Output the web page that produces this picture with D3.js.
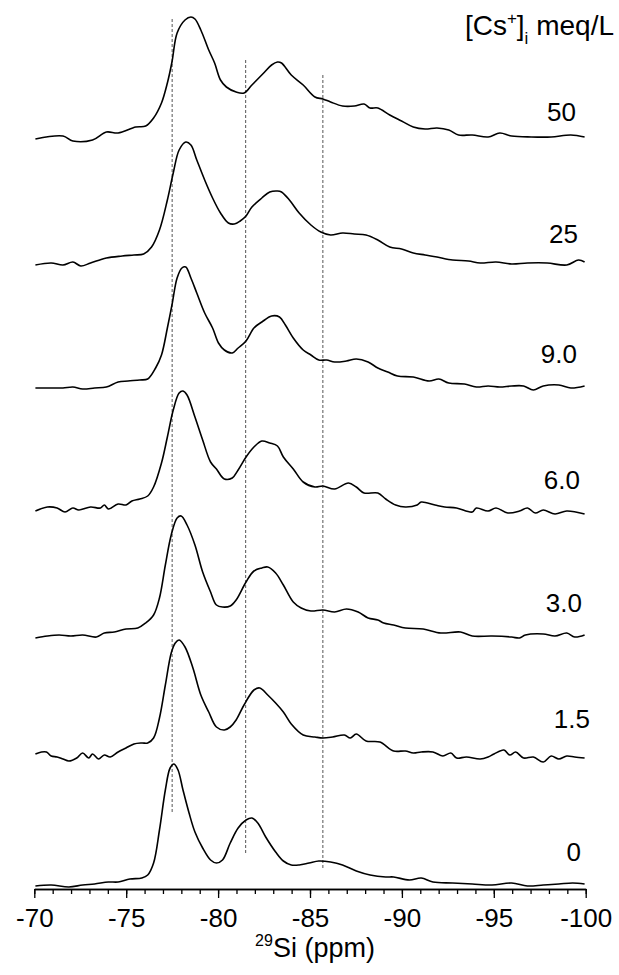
<!DOCTYPE html>
<html lang="en">
<head>
<meta charset="utf-8">
<script src="https://cdn.jsdelivr.net/npm/d3@7"></script>
<style>
  body { margin: 0; background: #fff; }
  text { font-family: "Liberation Sans", Arial, sans-serif; fill: #000; }
</style>
</head>
<body>
<script>
// [Cs+]i in meq/L, top spectrum first
const concLabels = ["50", "25", "9.0", "6.0", "3.0", "1.5", "0"];

// 29Si spectra: [shift (ppm), intensity (a.u.)]
const sp50 = [[-70.06,0],[-71.56,3],[-72.10,-2],[-73.17,-1],[-73.92,7],[-74.56,6],[-75.52,12],[-76.06,13],[-76.49,21],[-76.92,36],[-77.24,56],[-77.49,77],[-77.77,106],[-78.20,119],[-78.52,122],[-78.74,120],[-79.06,109],[-79.49,89],[-79.81,76],[-80.13,59],[-80.45,52],[-80.98,47],[-81.41,46],[-81.84,54],[-82.48,66],[-82.91,74],[-83.23,77],[-83.45,76],[-83.98,64],[-84.63,54],[-85.27,42],[-85.70,40],[-86.12,37],[-86.77,33],[-87.41,33],[-87.94,35],[-88.27,31],[-88.69,31],[-89.34,24],[-89.98,18],[-90.62,12],[-91.26,10],[-91.91,11],[-92.55,9],[-93.08,4],[-93.83,4],[-94.69,2],[-95.33,6],[-95.97,3],[-97.04,2],[-98.12,2],[-99.19,4],[-99.94,2]];
const sp25 = [[-70.06,-2],[-70.92,0],[-71.56,-2],[-72.10,1],[-72.53,-3],[-73.06,0],[-73.92,5],[-74.78,7],[-75.42,8],[-75.95,9],[-76.38,16],[-76.81,33],[-77.24,63],[-77.56,90],[-77.88,113],[-78.24,121],[-78.52,118],[-78.84,103],[-79.27,83],[-79.70,65],[-80.13,50],[-80.56,40],[-80.88,39],[-81.20,42],[-81.52,47],[-81.84,56],[-82.38,65],[-82.81,71],[-83.23,72],[-83.45,71],[-83.88,63],[-84.41,50],[-85.05,38],[-85.59,31],[-86.12,28],[-86.77,30],[-87.41,29],[-88.05,28],[-88.69,23],[-89.34,16],[-89.98,14],[-90.62,10],[-91.26,8],[-91.91,6],[-92.76,3],[-93.62,2],[-94.26,0],[-95.12,1],[-95.97,-1],[-96.83,0],[-97.90,0],[-98.97,-2],[-99.61,3],[-99.94,1]];
const sp9 = [[-70.06,-1],[-70.92,-1],[-71.56,-1],[-72.10,0],[-72.63,-2],[-73.28,-1],[-73.92,0],[-74.56,5],[-75.10,6],[-75.74,7],[-76.17,8],[-76.60,19],[-76.92,32],[-77.24,59],[-77.49,82],[-77.77,109],[-78.03,119],[-78.24,120],[-78.52,109],[-78.84,94],[-79.27,74],[-79.70,59],[-80.02,44],[-80.34,37],[-80.77,34],[-81.09,39],[-81.52,46],[-81.95,59],[-82.38,65],[-82.91,71],[-83.34,70],[-83.66,62],[-84.09,49],[-84.63,37],[-85.05,32],[-85.48,27],[-85.91,27],[-86.34,25],[-86.98,26],[-87.52,28],[-88.16,25],[-88.69,19],[-89.23,15],[-89.76,11],[-90.62,10],[-91.48,6],[-92.01,8],[-92.55,4],[-93.40,3],[-94.05,0],[-94.69,1],[-95.33,0],[-95.97,1],[-96.62,1],[-97.15,-3],[-97.69,1],[-98.54,2],[-99.19,-1],[-99.94,1]];
const sp6 = [[-70.06,0],[-70.71,4],[-71.24,3],[-71.67,-1],[-72.10,3],[-72.42,1],[-73.06,4],[-73.60,3],[-73.81,6],[-74.03,2],[-74.56,7],[-74.99,6],[-75.31,10],[-75.74,12],[-76.17,15],[-76.49,24],[-76.92,48],[-77.24,74],[-77.56,101],[-77.88,118],[-78.09,120],[-78.31,116],[-78.74,94],[-79.16,71],[-79.59,49],[-79.91,42],[-80.34,32],[-80.77,33],[-81.09,41],[-81.52,54],[-81.95,64],[-82.38,70],[-82.81,68],[-83.23,65],[-83.55,54],[-84.09,42],[-84.63,29],[-85.27,24],[-85.70,25],[-86.34,22],[-87.09,28],[-87.52,24],[-87.94,18],[-88.69,18],[-89.12,12],[-89.66,6],[-90.19,4],[-90.83,6],[-91.05,9],[-91.80,6],[-92.33,4],[-92.97,3],[-93.83,-1],[-94.05,3],[-94.69,0],[-95.12,3],[-95.76,-2],[-96.40,0],[-96.83,3],[-97.26,-2],[-97.69,1],[-98.33,-3],[-98.97,0],[-99.94,-3]];
const sp3 = [[-70.06,-3],[-70.71,-1],[-71.35,0],[-71.99,-1],[-72.63,0],[-73.38,-2],[-73.81,2],[-74.35,3],[-74.99,6],[-75.63,7],[-76.06,12],[-76.49,20],[-76.81,37],[-77.13,70],[-77.45,100],[-77.77,117],[-77.99,119],[-78.31,110],[-78.74,90],[-79.16,63],[-79.59,43],[-79.91,30],[-80.24,28],[-80.66,29],[-80.98,35],[-81.52,53],[-81.95,64],[-82.38,67],[-82.70,68],[-83.13,62],[-83.55,50],[-84.09,33],[-84.52,27],[-85.05,24],[-85.70,25],[-86.34,23],[-86.98,26],[-87.62,23],[-88.16,17],[-88.69,15],[-89.01,12],[-89.55,10],[-90.19,7],[-91.16,6],[-92.12,2],[-93.19,3],[-93.83,-1],[-94.90,-1],[-95.97,-2],[-96.40,-3],[-96.72,0],[-97.69,1],[-98.33,-1],[-98.97,2],[-99.40,-2],[-99.94,0]];
const sp15 = [[-70.06,5],[-70.39,7],[-70.66,7],[-70.92,3],[-71.24,2],[-71.56,0],[-71.88,-2],[-72.31,1],[-72.63,6],[-72.96,1],[-73.17,5],[-73.49,0],[-73.81,4],[-74.13,2],[-74.56,7],[-74.99,11],[-75.42,15],[-75.85,16],[-76.17,16],[-76.49,21],[-76.81,41],[-77.13,74],[-77.45,106],[-77.67,116],[-77.88,119],[-78.20,112],[-78.63,91],[-79.06,64],[-79.49,47],[-79.91,32],[-80.34,29],[-80.66,32],[-80.98,39],[-81.41,54],[-81.95,69],[-82.27,71],[-82.70,64],[-83.13,56],[-83.55,47],[-83.98,35],[-84.63,24],[-85.27,22],[-85.70,21],[-86.23,22],[-86.87,24],[-87.19,21],[-87.52,25],[-88.05,18],[-88.80,17],[-89.55,8],[-90.19,8],[-90.62,6],[-91.05,7],[-91.69,7],[-92.23,3],[-92.66,6],[-92.98,1],[-93.51,2],[-94.26,0],[-94.69,2],[-95.01,5],[-95.55,9],[-95.87,4],[-96.19,7],[-96.62,1],[-97.15,2],[-97.69,-3],[-98.12,3],[-98.54,0],[-98.97,3],[-99.40,2],[-99.94,1]];
const sp0 = [[-70.06,-3],[-70.92,-2],[-71.88,-4],[-72.63,-2],[-73.28,-1],[-74.03,1],[-74.56,1],[-75.20,4],[-75.85,5],[-76.17,8],[-76.49,20],[-76.81,53],[-77.13,93],[-77.39,115],[-77.60,119],[-77.82,113],[-78.09,93],[-78.42,70],[-78.74,51],[-79.16,35],[-79.59,23],[-79.91,20],[-80.24,23],[-80.66,40],[-81.09,55],[-81.52,63],[-81.84,65],[-82.16,60],[-82.59,46],[-83.13,31],[-83.55,22],[-83.98,18],[-84.41,18],[-84.95,20],[-85.48,22],[-86.12,21],[-86.77,18],[-87.52,12],[-88.27,8],[-89.12,6],[-89.55,6],[-90.41,3],[-91.05,5],[-91.69,1],[-92.76,0],[-93.83,-1],[-94.90,-2],[-95.97,0],[-96.83,-3],[-97.69,-2],[-98.54,-1],[-99.29,0],[-99.94,-1]];
const spectra = [sp50, sp25, sp9, sp6, sp3, sp15, sp0];

// dotted reference lines (ppm) and their extent in stacked intensity units
const refShifts = [-77.5, -81.5, -85.7];
const refTop = [864, 823, 808];
const refBottom = [70, 30, 15];

const majorTicks = [-70, -75, -80, -85, -90, -95, -100];

// layout
const W = 619, H = 975;
const step = 124;            // vertical offset between stacked spectra
const axisY = 889;
const labelRight = [576, 578, 577, 580, 582, 590, 581];
const labelLift = [18, 20, 24, 22, 23, 31, 22];

const x = d3.scaleLinear().domain([-70, -100]).range([34.3, 585.7]);
const y = d3.scaleLinear().domain([0, 880]).range([883, 3]);

const svg = d3.select('body').append('svg')
    .attr('width', W)
    .attr('height', H);

// reference lines
svg.selectAll('line.ref')
    .data(refShifts)
  .enter().append('line')
    .attr('class', 'ref')
    .attr('x1', d => x(d)).attr('x2', d => x(d))
    .attr('y1', (d, i) => y(refTop[i]))
    .attr('y2', (d, i) => y(refBottom[i]))
    .attr('stroke', '#555')
    .attr('stroke-width', 1)
    .attr('stroke-dasharray', '3,2');

// spectra
const line = d3.line()
    .x(d => x(d[0]))
    .y(d => y(d[1]))
    .curve(d3.curveCatmullRom.alpha(0.5));

spectra.forEach(function(sp, i) {
    const off = (spectra.length - 1 - i) * step;
    svg.append('path')
        .datum(sp.map(d => [d[0], d[1] + off]))
        .attr('d', line)
        .attr('fill', 'none')
        .attr('stroke', '#000')
        .attr('stroke-width', 1.6)
        .attr('stroke-linejoin', 'round');
});

// concentration labels
svg.selectAll('text.conc')
    .data(concLabels)
  .enter().append('text')
    .attr('class', 'conc')
    .attr('x', (d, i) => labelRight[i])
    .attr('y', (d, i) => y((concLabels.length - 1 - i) * step + labelLift[i]))
    .attr('text-anchor', 'end')
    .style('font-size', '26px')
    .text(d => d);

// header
const head = svg.append('text')
    .attr('x', 614).attr('y', 34.5)
    .attr('text-anchor', 'end')
    .style('font-size', '28px');
head.append('tspan').text('[Cs');
head.append('tspan').attr('dy', -11).style('font-size', '17px').text('+');
head.append('tspan').attr('dy', 11).text(']');
head.append('tspan').attr('dy', 9).style('font-size', '17px').text('i');
head.append('tspan').attr('dy', -9).text(' meq/L');

// x axis: minor ticks every 1 ppm, labelled every 5
const minor = d3.axisBottom(x)
    .tickValues(d3.range(-70, -100.5, -1))
    .tickSize(5)
    .tickSizeOuter(0)
    .tickFormat('');
const major = d3.axisBottom(x)
    .tickValues(majorTicks)
    .tickSize(9)
    .tickSizeOuter(0)
    .tickPadding(11)
    .tickFormat(d => String(d));

const gMinor = svg.append('g').attr('transform', 'translate(0,' + axisY + ')').call(minor);
const gMajor = svg.append('g').attr('transform', 'translate(0,' + axisY + ')').call(major);
[gMinor, gMajor].forEach(function(g) {
    g.select('.domain').attr('stroke', '#000').attr('stroke-width', 1.5);
    g.selectAll('.tick line').attr('stroke', '#000').attr('stroke-width', 1.3);
});
gMajor.selectAll('.tick text')
    .style('font-size', '26px')
    .style('font-family', '"Liberation Sans", Arial, sans-serif')
    .attr('fill', '#000');

// axis title
const title = svg.append('text')
    .attr('x', 315).attr('y', 957)
    .attr('text-anchor', 'middle')
    .style('font-size', '27px');
title.append('tspan').style('font-size', '16px').attr('dy', -11).text('29');
title.append('tspan').attr('dy', 11).text('Si (ppm)');
</script>
</body>
</html>
